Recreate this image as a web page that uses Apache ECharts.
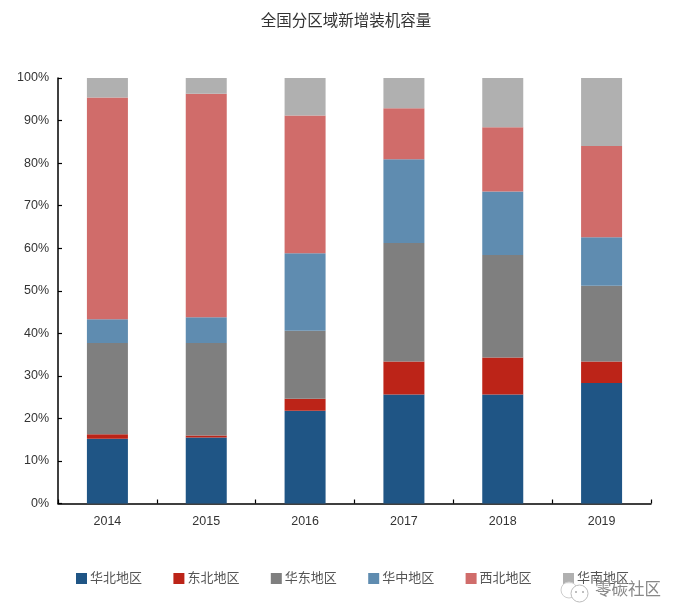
<!DOCTYPE html>
<html lang="zh">

<head>
    <meta charset="UTF-8">
    <title>全国分区域新增装机容量</title>
    <script src="https://cdn.jsdelivr.net/npm/echarts@6/dist/echarts.min.js"></script>
    <style>
        html, body { margin: 0; padding: 0; background: #fff; }
    </style>
</head>

<body>
    <div id="main" style="width: 688px;height: 614px"></div>
    <script>
        var myChart = echarts.init(document.getElementById("main"))
        var fontCn = '"Liberation Sans", "Noto Sans CJK SC", sans-serif'
        var years = ['2014', '2015', '2016', '2017', '2018', '2019']
        // 各区域占比(%)
        var regions = [
            { name: '华北地区', color: '#1F5585', data: [15.2, 15.5, 21.8, 25.6, 25.6, 28.3] },
            { name: '东北地区', color: '#BC2418', data: [1.1, 0.5, 2.8, 7.8, 8.7, 5.1] },
            { name: '华东地区', color: '#7F7F7F', data: [21.4, 21.7, 16.0, 27.8, 24.1, 17.8] },
            { name: '华中地区', color: '#5F8CB0', data: [5.6, 6.1, 18.2, 19.7, 14.9, 11.4] },
            { name: '西北地区', color: '#D06C6A', data: [52.1, 52.5, 32.4, 12.0, 15.1, 21.4] },
            { name: '华南地区', color: '#B0B0B0', data: [4.6, 3.7, 8.8, 7.1, 11.6, 16.0] }
        ]

        myChart.setOption({
            animation: false,
            title: {
                text: '全国分区域新增装机容量',
                left: 341,
                top: 9,
                textAlign: 'center',
                textStyle: { fontFamily: fontCn, fontSize: 15.5, fontWeight: 'normal', color: '#333' }
            },
            legend: {
                left: 71,
                top: 567,
                itemWidth: 11,
                itemHeight: 11,
                itemGap: 31.4,
                icon: 'rect',
                textStyle: { fontFamily: fontCn, fontSize: 13, color: '#555', padding: [0, 0, 0, -2] }
            },
            grid: { left: 58, right: 37, top: 78, bottom: 110.5 },
            xAxis: {
                type: 'category',
                data: years,
                axisLine: { lineStyle: { color: '#000', width: 1.5 } },
                axisTick: { show: true, inside: true, length: 4, alignWithLabel: false, lineStyle: { color: '#000', width: 1.2 } },
                axisLabel: { fontFamily: fontCn, fontSize: 12.5, color: '#333', margin: 12 }
            },
            yAxis: {
                type: 'value',
                min: 0,
                max: 100,
                interval: 10,
                axisLine: { show: true, lineStyle: { color: '#000', width: 1.5 } },
                axisTick: { show: true, inside: true, length: 4, lineStyle: { color: '#000', width: 1.2 } },
                axisLabel: { fontFamily: fontCn, fontSize: 12.5, color: '#333', margin: 9, padding: [7, 0, 0, 0], formatter: '{value}%' },
                splitLine: { show: false }
            },
            series: regions.map(function (r) {
                return {
                    name: r.name,
                    type: 'bar',
                    stack: 'total',
                    barWidth: 41,
                    itemStyle: { color: r.color },
                    data: r.data
                }
            }),
            // 右下角水印
            graphic: [
                {
                    type: 'circle',
                    shape: { cx: 569, cy: 590, r: 8 },
                    silent: true,
                    z: 100,
                    style: { fill: 'rgba(255,255,255,0.85)', stroke: '#ccc', lineWidth: 1 }
                },
                {
                    type: 'circle',
                    shape: { cx: 579.5, cy: 593.5, r: 8.5 },
                    silent: true,
                    z: 100,
                    style: { fill: '#fff', stroke: '#bbb', lineWidth: 1 }
                },
                { type: 'circle', shape: { cx: 576, cy: 592, r: 1 }, silent: true, z: 100, style: { fill: '#aaa' } },
                { type: 'circle', shape: { cx: 583, cy: 592, r: 1 }, silent: true, z: 100, style: { fill: '#aaa' } },
                {
                    type: 'text',
                    left: 595,
                    top: 582.5,
                    silent: true,
                    z: 100,
                    style: { text: '零碳社区', fontFamily: fontCn, fontSize: 16.5, fill: '#888' }
                }
            ]
        })
    </script>

</body>

</html>
